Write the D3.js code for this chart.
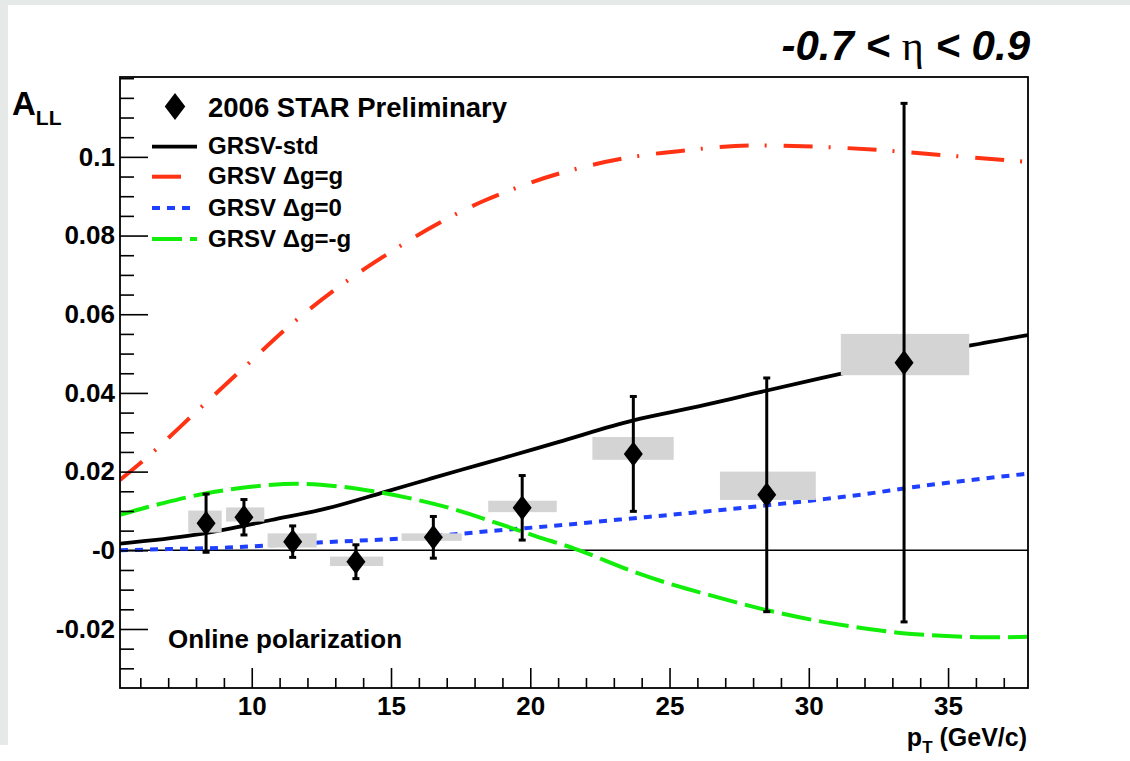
<!DOCTYPE html>
<html>
<head>
<meta charset="utf-8">
<script src="https://cdn.jsdelivr.net/npm/d3@7"></script>
<style>
  body { margin: 0; background: #ffffff; }
  svg text { font-family: "Liberation Sans", Arial, Helvetica, sans-serif; font-weight: bold; fill: #000; }
</style>
</head>
<body>
<svg id="chart" width="1130" height="761"></svg>
<script>
// ---- STAR 2006 inclusive jet A_LL vs pT ----
const pointPt   = [8.36, 9.72, 11.47, 13.74, 16.52, 19.71, 23.70, 28.49, 33.42];
const pointAll  = [0.0069, 0.0084, 0.0022, -0.0029, 0.0033, 0.0108, 0.0245, 0.0141, 0.0477];
const statErr   = [0.0074, 0.0045, 0.0040, 0.0043, 0.0053, 0.0082, 0.0146, 0.0297, 0.0659];
const sysUp     = [0.0032, 0.0025, 0.0021, 0.0013, 0.0010, 0.0018, 0.0043, 0.0059, 0.0073];
const sysDown   = [0.0024, 0.0011, 0.0015, 0.0011, 0.0009, 0.0011, 0.0015, 0.0013, 0.0032];
const binLow    = [7.72, 9.08, 10.57, 12.81, 15.38, 18.49, 22.23, 26.81, 31.15];
const binHigh   = [8.92, 10.45, 12.33, 14.72, 17.54, 20.95, 25.15, 30.25, 35.76];

// GRSV theory curves, [pT, A_LL]
const grsvStd = [[5.27,0.0017],[7.94,0.0039],[9.26,0.0056],[10.70,0.0077],[12.73,0.0107],[14.76,0.0148],
  [16.32,0.0180],[17.5,0.0204],[19.0,0.0234],[21.0,0.0275],[23.7,0.0330],[26.0,0.0365],[28.0,0.0398],
  [30.4,0.0437],[33.0,0.0478],[35.76,0.0520],[37.87,0.0547]];
const grsvMax = [[5.27,0.0179],[6.35,0.0243],[8.02,0.0353],[9.76,0.0467],[11.43,0.0575],[13.23,0.0675],
  [14.96,0.0757],[16.5,0.0823],[18.36,0.0889],[19.37,0.0918],[21.1,0.0959],[23.35,0.0996],[25.66,0.1017],
  [27.9,0.1029],[30.22,0.1026],[32.6,0.1017],[34.9,0.1004],[37.2,0.0991],[37.87,0.0987]];
const grsvZero = [[5.27,0.0000],[7.0,0.0003],[9.14,0.0007],[11.0,0.0014],[12.73,0.0021],[15.1,0.0029],
  [17.48,0.0042],[18.6,0.0049],[20.96,0.0063],[23.2,0.0078],[25.0,0.0090],[27.05,0.0104],[30.4,0.0129],
  [31.72,0.0140],[34.0,0.0163],[36.0,0.0180],[37.87,0.0195]];
const grsvMin = [[5.27,0.0090],[6.82,0.0120],[8.38,0.0145],[10.06,0.0162],[11.61,0.0169],[13.05,0.0163],
  [14.36,0.0150],[15.70,0.0132],[17.13,0.0107],[18.81,0.0069],[20.24,0.0035],[21.56,0.0005],[23.70,-0.0054],
  [25.14,-0.0088],[26.45,-0.0114],[28.49,-0.0152],[30.52,-0.0182],[31.96,-0.0198],[33.28,-0.0210],
  [34.95,-0.0218],[36.5,-0.0221],[37.87,-0.0220]];

const xMajorTicks = [10, 15, 20, 25, 30, 35];
const yMajorTicks = [-0.02, 0, 0.02, 0.04, 0.06, 0.08, 0.1];
const yTickLabels = ["-0.02", "-0", "0.02", "0.04", "0.06", "0.08", "0.1"];
const legendLabels = ["2006 STAR Preliminary", "GRSV-std", "GRSV \u0394g=g", "GRSV \u0394g=0", "GRSV \u0394g=-g"];

// ---- layout ----
const frame = { left: 120, right: 1028, top: 77, bottom: 688 };
const x = d3.scaleLinear().domain([5.27, 37.87]).range([frame.left, frame.right]);
const y = d3.scaleLinear().domain([-0.035, 0.1203]).range([frame.bottom, frame.top]);

const svg = d3.select("#chart");

// page backdrop: light strip on the left and top edges
svg.append("rect").attr("x", 0).attr("y", 0).attr("width", 1130).attr("height", 745).attr("fill", "#e5eae8");
svg.append("rect").attr("x", 8).attr("y", 5).attr("width", 1122).attr("height", 756).attr("fill", "#ffffff");
svg.append("rect").attr("x", 0).attr("y", 745).attr("width", 8).attr("height", 16).attr("fill", "#ffffff");

svg.append("defs").append("clipPath").attr("id", "plotClip")
  .append("rect").attr("x", frame.left).attr("y", frame.top)
  .attr("width", frame.right - frame.left).attr("height", frame.bottom - frame.top);

const plot = svg.append("g").attr("clip-path", "url(#plotClip)");

// zero line
plot.append("line")
  .attr("x1", frame.left).attr("x2", frame.right)
  .attr("y1", y(0)).attr("y2", y(0))
  .attr("stroke", "#000").attr("stroke-width", 1.6);

// theory curves
const curves = [
  { data: grsvStd,  color: "#000000", dash: null,          width: 3.8 },
  { data: grsvMax,  color: "#ff3214", dash: "29,16,2,17",  width: 4 },
  { data: grsvZero, color: "#1f3fff", dash: "8,7",         width: 4 },
  { data: grsvMin,  color: "#12ee0a", dash: "30,8",        width: 4 }
];
const line = d3.line().x(d => x(d[0])).y(d => y(d[1])).curve(d3.curveMonotoneX);
curves.forEach(c => {
  plot.append("path").attr("d", line(c.data))
    .attr("fill", "none").attr("stroke", c.color).attr("stroke-width", c.width)
    .attr("stroke-dasharray", c.dash);
});

// systematic uncertainty boxes
plot.selectAll("rect.sys").data(pointPt).join("rect").attr("class", "sys")
  .attr("x", (d, i) => x(binLow[i]))
  .attr("width", (d, i) => x(binHigh[i]) - x(binLow[i]))
  .attr("y", (d, i) => y(pointAll[i] + sysUp[i]))
  .attr("height", (d, i) => y(pointAll[i] - sysDown[i]) - y(pointAll[i] + sysUp[i]))
  .attr("fill", "#d4d4d4");

// statistical error bars with end caps
const bars = plot.selectAll("g.err").data(pointPt).join("g").attr("class", "err");
bars.append("line")
  .attr("x1", d => x(d)).attr("x2", d => x(d))
  .attr("y1", (d, i) => y(pointAll[i] + statErr[i]))
  .attr("y2", (d, i) => y(pointAll[i] - statErr[i]))
  .attr("stroke", "#000").attr("stroke-width", 3);
[1, -1].forEach(s => {
  bars.append("line")
    .attr("x1", d => x(d) - 3.5).attr("x2", d => x(d) + 3.5)
    .attr("y1", (d, i) => y(pointAll[i] + s * statErr[i]))
    .attr("y2", (d, i) => y(pointAll[i] + s * statErr[i]))
    .attr("stroke", "#000").attr("stroke-width", 3);
});

// tall diamond marker
const tallDiamond = {
  draw(ctx, size) {
    const h = Math.sqrt(size) * 0.66, w = h * 0.76;
    ctx.moveTo(0, -h); ctx.lineTo(w, 0); ctx.lineTo(0, h); ctx.lineTo(-w, 0); ctx.closePath();
  }
};
const marker = d3.symbol().type(tallDiamond).size(360);
plot.selectAll("path.pt").data(pointPt).join("path").attr("class", "pt")
  .attr("d", marker)
  .attr("transform", (d, i) => `translate(${x(d)},${y(pointAll[i])})`)
  .attr("fill", "#000");

// ---- axes ----
const yMinor = d3.range(-0.03, 0.1201, 0.005).map(v => +v.toFixed(3)).filter(v => !yMajorTicks.includes(v));
const xMinor = d3.range(6, 38, 1).filter(v => !xMajorTicks.includes(v));

svg.append("g").attr("transform", `translate(${frame.left},0)`)
  .call(d3.axisLeft(y).tickValues(yMajorTicks).tickSize(-28).tickPadding(5)
    .tickFormat((d, i) => yTickLabels[i]));
svg.append("g").attr("transform", `translate(${frame.left},0)`)
  .call(d3.axisLeft(y).tickValues(yMinor).tickSize(-14).tickFormat(""));

svg.append("g").attr("transform", `translate(0,${frame.bottom})`)
  .call(d3.axisBottom(x).tickValues(xMajorTicks).tickSize(-20).tickPadding(8.5).tickFormat(d3.format("d")));
svg.append("g").attr("transform", `translate(0,${frame.bottom})`)
  .call(d3.axisBottom(x).tickValues(xMinor).tickSize(-10).tickFormat(""));

svg.selectAll(".domain").remove();
svg.selectAll(".tick line").attr("stroke", "#000").attr("stroke-width", 1.6);
svg.selectAll(".tick text").attr("font-size", 26).attr("font-weight", "bold")
  .attr("font-family", "'Liberation Sans', Arial, Helvetica, sans-serif").attr("fill", "#000");

// frame
svg.append("rect")
  .attr("x", frame.left).attr("y", frame.top)
  .attr("width", frame.right - frame.left).attr("height", frame.bottom - frame.top)
  .attr("fill", "none").attr("stroke", "#000").attr("stroke-width", 1.8);

// axis titles
const yTitle = svg.append("text").attr("x", 12).attr("y", 115).attr("font-size", 33);
yTitle.append("tspan").text("A");
yTitle.append("tspan").attr("font-size", 21).attr("dy", 10).text("LL");

const xTitle = svg.append("text").attr("x", 1027).attr("y", 746).attr("text-anchor", "end").attr("font-size", 25);
xTitle.append("tspan").text("p");
xTitle.append("tspan").attr("font-size", 17).attr("dy", 7).text("T");
xTitle.append("tspan").attr("dy", -7).text(" (GeV/c)");

// pseudorapidity range
const eta = svg.append("text").attr("x", 1030).attr("y", 60).attr("text-anchor", "end")
  .attr("font-size", 42).attr("font-style", "italic");
eta.append("tspan").text("-0.7 < ");
eta.append("tspan").attr("font-family", "'Liberation Serif', 'Times New Roman', serif")
  .attr("font-style", "normal").attr("font-weight", "normal").text("\u03b7");
eta.append("tspan").text(" < 0.9");

// ---- legend ----
svg.append("path").attr("d", d3.symbol().type(tallDiamond).size(420)())
  .attr("transform", "translate(175,106.5)").attr("fill", "#000");
svg.append("text").attr("x", 208).attr("y", 116.5).attr("font-size", 27.5).text(legendLabels[0]);

const legendRows = [146.7, 176.7, 208, 239];
curves.forEach((c, i) => {
  svg.append("line").attr("x1", 152).attr("x2", 197)
    .attr("y1", legendRows[i]).attr("y2", legendRows[i])
    .attr("stroke", c.color).attr("stroke-width", c.width)
    .attr("stroke-dasharray", c.dash);
  svg.append("text").attr("x", 208).attr("y", legendRows[i] + 7.5)
    .attr("font-size", 24).text(legendLabels[i + 1]);
});

svg.append("text").attr("x", 168).attr("y", 648).attr("font-size", 26).text("Online polarization");
</script>
</body>
</html>
